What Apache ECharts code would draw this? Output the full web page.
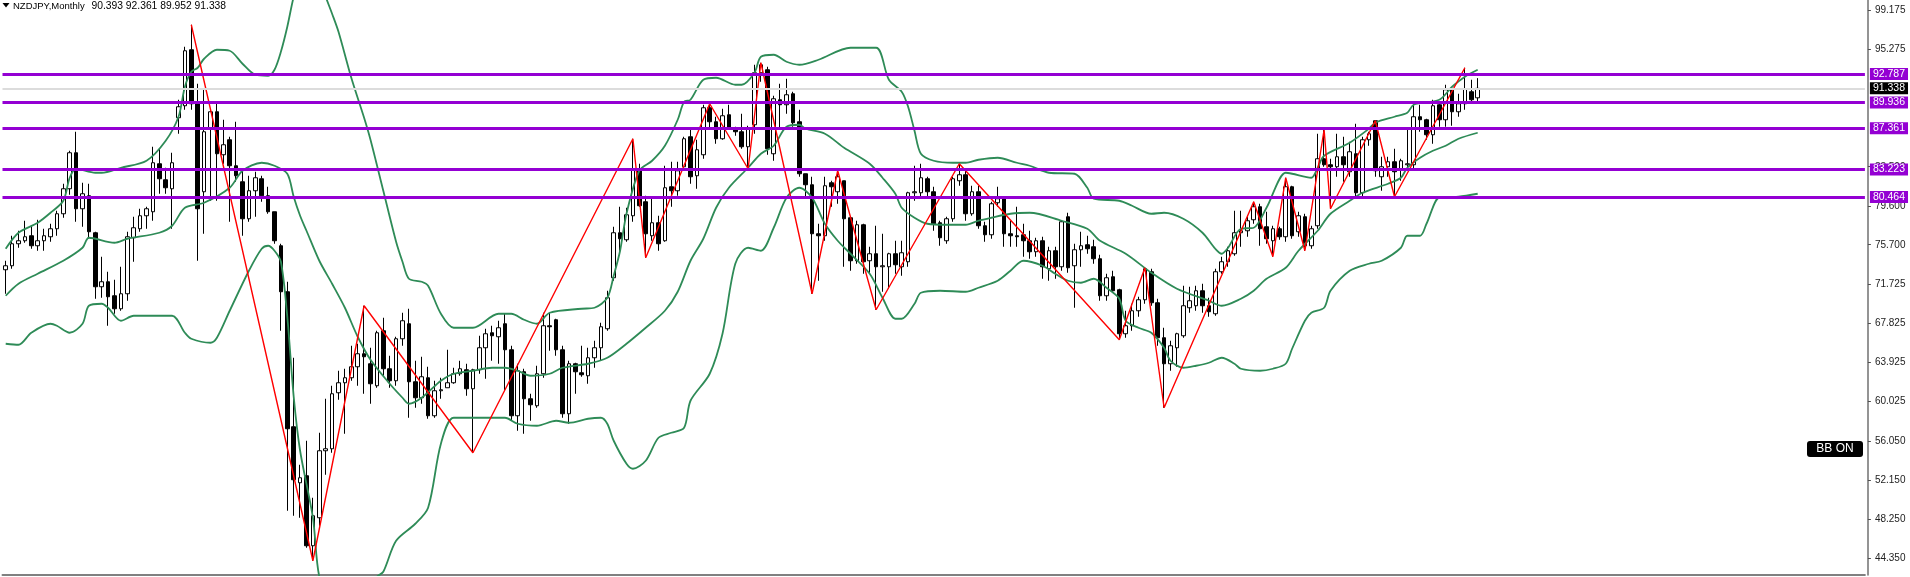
<!DOCTYPE html>
<html><head><meta charset="utf-8">
<script src="https://cdn.jsdelivr.net/npm/echarts@6/dist/echarts.min.js"></script>
<style>html,body{margin:0;padding:0;background:#fff}#c{width:1910px;height:577px}</style>
</head><body><div id="c"></div>
<script>
// ---- data ----
const openV = [73.2,73.6,75.8,76.1,76.6,75.6,76.1,76.5,77.3,78.8,
81.3,84.9,79.3,80.6,76.9,71.5,72.0,70.6,69.3,70.8,
76.4,77.3,78.6,79.0,83.8,82.2,81.3,88.4,89.6,95.2,
89.8,81.0,87.3,89.0,84.7,86.2,83.6,82.0,78.3,81.1,
82.3,80.6,79.0,75.6,71.0,57.5,51.9,52.6,45.6,48.4,
55.1,55.3,60.9,61.9,62.4,63.5,64.8,63.8,61.6,67.1,
63.3,62.1,66.3,67.8,62.0,60.4,62.4,58.6,61.1,61.4,
61.9,62.8,63.2,61.3,63.2,65.4,66.9,66.5,67.8,65.2,
58.6,63.0,60.3,59.6,62.8,67.6,68.2,65.2,58.8,63.8,
62.9,62.6,64.4,65.4,67.3,72.4,76.9,76.2,78.6,83.3,
80.0,76.6,77.9,76.1,81.5,81.1,83.5,86.5,82.6,84.7,
89.4,88.0,86.3,88.7,87.3,87.0,85.5,87.7,92.9,93.2,
84.8,90.2,89.7,90.8,88.0,82.8,81.7,76.8,76.6,81.9,
81.0,82.1,78.4,74.1,77.7,74.1,74.8,73.5,73.5,74.8,
73.5,74.0,80.9,80.9,82.3,81.0,77.9,76.1,78.3,82.1,
82.7,78.8,81.0,77.6,76.7,79.9,80.3,76.8,76.6,76.7,
76.1,75.0,76.1,73.3,75.1,73.5,78.5,73.6,75.2,75.7,
75.5,74.3,70.6,72.5,71.2,66.8,67.6,69.1,70.2,73.0,
69.9,66.4,63.8,65.4,66.6,69.4,69.6,71.1,69.6,68.8,
73.0,74.0,74.8,76.9,77.1,78.2,79.5,77.5,76.1,77.3,
76.5,81.5,77.0,78.5,75.6,77.6,84.3,83.7,83.5,84.5,
83.0,84.8,80.9,86.2,88.1,82.5,83.5,84.0,83.3,83.7,
83.7,88.5,88.2,86.7,89.7,88.2,91.2,89.0,89.8,91.0,
90.393];
const highV = [74.1,76.6,77.1,78.1,77.6,78.2,77.3,77.8,79.1,81.8,
85.1,87.0,81.9,81.8,77.0,74.5,73.0,72.2,73.5,77.0,
78.5,79.3,79.5,85.5,85.3,83.4,84.9,90.2,95.5,97.7,
91.8,91.3,89.3,90.0,88.2,86.5,88.0,83.3,82.6,83.0,
82.6,81.5,79.0,75.8,72.0,64.4,53.7,56.1,50.4,56.9,
60.3,61.6,63.1,63.3,65.6,65.8,69.6,65.4,67.1,68.4,
64.6,66.5,68.9,69.3,64.1,64.5,63.5,62.1,62.4,65.2,
63.4,64.1,63.8,63.3,66.6,67.3,67.6,68.1,68.8,65.6,
63.8,63.3,60.8,63.6,68.9,68.9,68.3,65.6,64.1,63.9,
65.6,65.4,66.1,67.9,71.1,77.5,79.5,79.4,86.3,83.8,
80.6,80.3,78.6,83.6,84.0,84.0,86.5,87.2,86.2,89.7,
89.8,88.5,89.3,89.7,87.5,88.8,87.6,93.7,93.9,93.5,
90.6,91.8,92.3,91.0,89.2,82.8,82.5,77.8,82.5,82.1,
83.1,82.1,78.5,78.1,77.8,75.5,77.6,76.8,74.9,76.1,
76.1,81.0,83.6,83.8,82.5,81.5,78.1,78.5,82.5,83.8,
83.3,81.6,81.6,78.0,80.0,81.5,80.3,78.1,79.5,77.8,
77.1,76.4,76.5,75.5,75.5,78.1,78.9,75.8,77.0,76.6,
76.2,74.7,72.8,73.1,71.3,69.1,69.8,70.5,73.4,73.3,
70.3,67.4,66.1,66.9,71.6,71.5,71.6,71.8,70.4,73.3,
74.5,75.5,79.1,79.1,78.6,80.0,79.8,79.0,77.6,77.5,
82.4,81.6,79.0,78.8,77.6,86.8,87.2,84.3,86.8,86.5,
86.0,87.8,86.5,87.0,88.1,84.5,84.5,85.3,84.3,87.2,
89.8,89.7,88.3,90.2,89.8,91.7,91.3,90.8,93.4,92.2,
92.361];
const lowV = [70.8,73.3,75.4,75.9,75.3,75.1,75.1,76.0,76.6,78.4,
80.7,78.0,77.5,76.3,70.3,70.4,67.6,68.8,69.1,70.1,
74.0,77.0,77.3,78.1,80.8,80.8,77.3,86.8,89.2,89.2,
74.1,76.8,80.1,80.1,83.8,78.0,82.0,76.6,78.0,78.5,
80.0,78.8,75.8,67.1,49.1,48.6,48.4,45.4,44.1,47.6,
52.7,54.9,60.2,56.8,62.1,61.6,60.8,59.8,61.4,62.6,
61.4,61.6,65.6,58.4,59.4,59.8,58.3,58.4,60.3,61.4,
61.8,62.6,60.6,54.9,62.8,62.3,64.1,63.8,61.1,58.1,
57.1,56.8,58.1,59.4,62.4,65.1,64.6,58.4,57.8,60.8,
62.5,61.8,63.4,64.1,67.1,72.1,75.1,76.0,78.0,79.5,
74.4,76.1,75.1,76.0,79.5,80.6,83.1,81.8,81.3,84.3,
87.2,85.8,86.2,87.2,86.6,85.3,83.3,86.8,92.0,84.7,
84.1,87.3,88.8,87.5,82.5,80.3,70.8,72.1,76.1,79.5,
79.8,73.5,73.1,73.8,72.8,72.8,69.2,71.0,71.3,72.8,
72.6,73.5,80.1,80.5,80.3,77.1,75.6,75.8,78.0,81.6,
78.1,78.6,77.3,76.0,76.3,79.5,75.5,75.5,75.5,74.5,
74.3,74.5,72.3,72.1,72.3,73.1,72.9,69.4,73.5,74.8,
73.8,70.1,70.1,70.9,66.2,66.4,67.1,68.5,69.8,69.6,
65.6,59.4,63.1,63.5,66.4,68.9,69.1,68.9,68.5,68.6,
72.8,73.5,74.6,75.5,76.5,77.8,75.6,75.8,74.5,76.2,
76.0,76.3,76.5,75.1,75.3,77.3,83.5,79.3,82.5,82.0,
82.5,80.4,80.5,85.6,82.5,81.1,82.5,80.5,82.1,83.3,
83.3,87.0,86.2,85.8,87.5,87.5,87.6,88.5,89.2,90.0,
89.952];
const closeV = [73.6,75.8,76.1,76.5,75.6,76.1,76.6,77.3,78.8,81.3,
84.9,79.3,80.8,77.0,71.5,72.0,70.5,69.3,70.8,76.5,
77.4,78.6,79.3,83.9,82.3,81.4,83.9,89.5,95.1,89.8,
79.3,87.0,89.0,84.8,85.7,83.6,82.6,78.3,81.1,82.4,
80.6,79.0,76.1,71.0,57.3,52.2,52.4,45.6,48.6,55.1,
55.3,60.8,61.9,62.4,63.5,64.8,64.5,61.8,66.9,63.3,
62.1,66.3,68.1,62.0,60.4,62.5,58.6,61.1,61.2,61.9,
62.8,63.3,61.3,63.2,65.4,66.8,66.6,67.4,65.2,58.6,
63.1,60.3,59.7,62.8,67.6,67.5,65.2,58.8,63.8,63.0,
62.7,64.4,65.4,67.5,70.4,76.9,76.3,78.7,83.3,79.6,
76.8,77.9,75.8,81.4,81.1,83.1,86.3,82.5,85.2,89.4,
88.0,86.3,88.6,87.3,87.0,85.5,87.4,92.9,93.7,85.3,
90.3,89.7,90.7,87.9,82.8,81.7,76.8,76.6,81.6,81.5,
82.5,78.3,74.1,77.7,74.0,74.8,73.5,73.6,74.8,73.7,
74.9,80.9,81.0,82.4,81.0,77.8,76.4,78.3,82.3,82.7,
78.8,81.0,77.6,76.7,79.8,80.3,76.8,76.6,76.5,76.1,
75.0,76.1,73.5,75.1,73.5,78.0,73.4,75.2,75.6,75.3,
74.3,70.6,72.4,71.1,66.8,67.6,69.1,70.2,73.3,69.9,
66.4,63.8,65.6,66.8,69.6,70.1,71.1,69.6,69.0,73.0,
74.0,75.1,76.9,77.1,78.1,79.5,77.3,76.3,77.3,76.5,
81.5,76.6,78.6,75.6,77.3,84.3,83.7,83.5,84.5,83.7,
85.0,80.9,86.2,86.8,83.1,83.5,84.0,83.0,84.1,83.8,
88.5,88.2,86.7,89.6,88.2,91.2,89.0,89.8,91.3,90.2,
91.338];

// Bollinger bands as read at sampled candles: [candle index, value]
const bbUpper = [[0,75.3],[2,76.9],[5,77.9],[7,78.9],[9,80.1],[10,82.4],[11,83.3],[14,82.9],[15,82.9],[18,83.4],[22,84.1],[25,86.1],[27,88.5],[28,91.5],[29,93.0],[30,93.4],[31,94.3],[33,95.2],[35,95.1],[37,93.8],[39,92.7],[41,92.6],[42,93.2],[43,95.0],[44,97.5],[45,100.5],[46,102.5],[47,103.5],[48,103.5],[49,102.5],[50,100.5],[51,98.8],[52,97.0],[54,92.4],[56,88.4],[57,86.2],[59,81.1],[61,76.0],[62,74.0],[63,72.3],[65,72.0],[66,71.6],[68,68.8],[70,67.4],[73,67.4],[77,68.8],[79,68.8],[81,68.2],[83,67.8],[85,68.9],[90,69.3],[92,69.4],[94,70.4],[95,72.6],[96,75.1],[97,78.8],[99,83.1],[101,84.1],[103,85.6],[105,88.2],[106,90.0],[107,90.2],[109,92.2],[111,92.4],[114,91.7],[115,91.7],[117,92.9],[118,94.5],[120,94.7],[122,94.0],[124,93.7],[127,94.2],[132,95.4],[136,95.4],[138,92.2],[140,91.0],[141,89.5],[142,87.1],[143,84.8],[145,84.1],[148,83.9],[150,83.9],[152,84.2],[155,84.4],[158,83.9],[160,83.6],[163,82.9],[167,82.8],[169,81.4],[170,80.3],[174,80.1],[176,79.6],[179,78.8],[181,78.9],[184,78.3],[187,76.9],[189,75.3],[190,74.8],[191,75.4],[193,77.3],[195,77.4],[197,79.4],[200,82.9],[201,82.8],[204,82.4],[205,83.4],[206,84.6],[210,85.9],[213,87.3],[214,87.9],[217,88.5],[219,88.9],[220,89.7],[224,90.2],[226,91.5],[228,92.5],[230,93.2]];
const bbMiddle = [[0,70.6],[2,71.8],[5,72.8],[9,74.1],[12,75.4],[13,76.4],[17,75.9],[19,76.3],[24,76.9],[26,77.6],[28,79.4],[31,79.9],[35,81.4],[37,83.1],[40,83.9],[42,83.6],[44,82.8],[45,80.5],[46,78.6],[47,77.1],[49,74.1],[51,71.8],[53,69.4],[55,66.5],[57,64.2],[60,61.8],[62,60.4],[63,59.8],[65,60.4],[68,62.1],[70,62.8],[73,63.1],[76,63.4],[78,63.4],[80,63.1],[82,62.6],[85,62.8],[87,63.4],[91,63.8],[94,64.4],[97,65.8],[100,67.4],[103,69.1],[105,71.0],[107,74.1],[109,76.3],[111,79.4],[113,81.4],[116,83.4],[118,84.8],[120,85.6],[122,87.5],[124,87.7],[125,87.3],[128,86.8],[131,85.4],[135,83.8],[137,82.4],[139,80.8],[140,79.4],[142,78.4],[144,77.8],[147,77.7],[150,77.7],[152,78.1],[154,78.4],[157,78.8],[160,78.9],[165,78.1],[169,77.3],[171,76.1],[175,74.8],[179,72.9],[183,71.3],[188,70.1],[190,69.6],[193,70.3],[195,71.1],[197,72.3],[200,73.4],[202,75.1],[205,77.1],[207,78.8],[210,80.1],[212,80.9],[216,81.8],[218,82.4],[219,83.4],[221,84.4],[223,85.1],[225,85.6],[227,86.3],[230,86.9]];
const bbLower = [[0,65.8],[2,65.7],[4,66.9],[7,67.8],[8,67.6],[10,66.9],[12,67.8],[13,69.6],[15,69.8],[16,69.4],[18,68.1],[20,68.6],[26,68.6],[28,66.9],[29,66.3],[32,65.9],[33,66.4],[35,69.1],[38,73.1],[40,75.3],[41,75.6],[42,75.1],[43,74.0],[44,68.5],[45,60.5],[46,55.1],[48,48.4],[49,42.5],[51,39.5],[53,37.5],[55,38.0],[57,41.5],[58,42.5],[59,43.0],[61,46.1],[64,47.8],[66,49.4],[68,55.8],[70,58.4],[74,58.4],[78,58.4],[80,57.8],[83,57.6],[86,58.1],[88,57.9],[91,58.3],[93,58.4],[94,57.8],[95,56.1],[97,53.8],[98,53.3],[100,54.1],[102,56.4],[104,56.9],[106,57.4],[107,60.1],[110,62.8],[112,66.8],[114,73.8],[116,75.4],[118,75.1],[120,77.4],[122,80.4],[124,81.4],[126,80.4],[128,77.8],[130,76.1],[132,74.8],[135,72.8],[137,70.4],[139,68.3],[140,68.3],[142,69.8],[143,70.9],[146,71.1],[150,71.0],[152,71.4],[155,72.1],[157,73.1],[159,74.1],[162,73.6],[164,72.8],[166,72.1],[168,71.9],[170,72.3],[172,71.4],[174,70.3],[175,68.1],[177,67.4],[179,66.9],[181,65.4],[182,64.1],[184,63.4],[186,63.6],[188,63.9],[190,64.4],[192,63.8],[193,63.3],[196,63.1],[198,63.3],[200,63.8],[201,65.3],[203,68.1],[204,68.9],[206,69.4],[207,71.1],[210,73.1],[213,73.8],[215,74.1],[218,75.4],[219,76.6],[221,76.6],[222,77.8],[224,80.4],[225,80.4],[227,80.5],[230,80.8]];

// ZigZag swing points: [candle index, price]
const zigzag = [[29,97.7],[48,44.1],[56,69.6],[73,54.9],[98,86.3],[100,74.4],[110,89.8],[116,83.3],[118,93.9],[126,70.8],[130,83.1],[136,69.2],[149,83.8],[174,66.2],[178,73.4],[181,59.4],[195,80.0],[198,74.5],[200,82.4],[203,75.1],[206,87.2],[207,79.3],[214,88.1],[217,80.5],[228,93.4]];

// horizontal levels and current price
const levels = [92.787, 89.936, 87.361, 83.223, 80.464];
const lastPrice = 91.338;
const yTicks = [99.175, 95.275, 83.5, 79.6, 75.7, 71.725, 67.825, 63.925, 60.025, 56.05, 52.15, 48.25, 44.35];
const yMin = 42.675, yMax = 100.175;
const slotCount = 291;

// month categories (chart starts Feb 2005), including empty future slots
const cats = [];
for (let k = 0; k < slotCount; k++) {
  const m = 1 + k;
  cats.push((2005 + Math.floor(m / 12)) + '.' + String(m % 12 + 1).padStart(2, '0'));
}
const candles = openV.map((o, i) => [o, closeV[i], lowV[i], highV[i]]);
const n = openV.length - 1;
const titleNums = [openV[n], highV[n], lowV[n], closeV[n]].map(v => v.toFixed(3)).join(' ');

const chart = echarts.init(document.getElementById('c'), null, {renderer: 'canvas'});
const FONT = '"Liberation Sans", Arial, sans-serif';
const purple = '#9400D3';

const markData = levels.map(v => ({
  yAxis: v,
  lineStyle: {color: purple, width: 3, type: 'solid'},
  label: {backgroundColor: purple, formatter: v.toFixed(3)}
}));
markData.unshift({
  yAxis: lastPrice,
  lineStyle: {color: '#dcdcdc', width: 2, type: 'solid'},
  label: {backgroundColor: '#000', formatter: lastPrice.toFixed(3)}
});

chart.setOption({
  animation: false,
  backgroundColor: '#ffffff',
  grid: {left: 2.5, top: 0, width: 1862.4, height: 575, containLabel: false},
  xAxis: {
    type: 'category', data: cats, boundaryGap: true,
    axisLine: {show: true, lineStyle: {color: '#808080', width: 2}},
    axisTick: {show: false}, axisLabel: {show: false}, splitLine: {show: false}
  },
  yAxis: {
    type: 'value', position: 'right', offset: 3, min: yMin, max: yMax, scale: true,
    axisLine: {show: true, lineStyle: {color: '#707070', width: 1.5}},
    axisTick: {show: true, length: 3, customValues: yTicks, lineStyle: {color: '#505050'}},
    axisLabel: {customValues: yTicks, formatter: v => v.toFixed(3), color: '#222', fontSize: 10, fontFamily: FONT, margin: 7},
    splitLine: {show: false}
  },
  series: [
    {
      type: 'candlestick', data: candles, barWidth: 4, z: 2,
      itemStyle: {color: '#ffffff', color0: '#000000', borderColor: '#000000', borderColor0: '#000000', borderWidth: 1}
    },
    {type: 'line', data: bbUpper, smooth: 0.3, showSymbol: false, z: 3, lineStyle: {color: '#2e8b57', width: 1.8}},
    {type: 'line', data: bbMiddle, smooth: 0.3, showSymbol: false, z: 3, lineStyle: {color: '#2e8b57', width: 1.8}},
    {type: 'line', data: bbLower, smooth: 0.3, showSymbol: false, z: 3, lineStyle: {color: '#2e8b57', width: 1.8}},
    {
      type: 'line', data: zigzag, showSymbol: false, z: 4,
      lineStyle: {color: '#ff0000', width: 1.4},
      markLine: {
        silent: true, symbol: ['none', 'none'], animation: false, precision: 3,
        label: {
          show: true, position: 'end', distance: 5,
          color: '#fff', fontSize: 10.5, fontFamily: FONT, padding: [1, 3, 0, 3]
        },
        data: markData
      }
    }
  ],
  graphic: [
    {type: 'polygon', shape: {points: [[2.5, 3], [9.5, 3], [6, 7.5]]}, style: {fill: '#000'}},
    {type: 'text', x: 13, y: 1, style: {text: 'NZDJPY,Monthly', font: '9.5px ' + FONT, fill: '#000'}},
    {type: 'text', x: 91.5, y: 1, style: {text: titleNums, font: '10.3px ' + FONT, fill: '#000'}},
    {type: 'group', x: 1807, y: 441, children: [
      {type: 'rect', shape: {x: 0, y: 0, width: 56, height: 16, r: 3}, style: {fill: '#000'}},
      {type: 'text', x: 28, y: 8, style: {text: 'BB ON', fill: '#fff', font: '12px ' + FONT, align: 'center', verticalAlign: 'middle'}}
    ]}
  ]
});
</script>
</body></html>
